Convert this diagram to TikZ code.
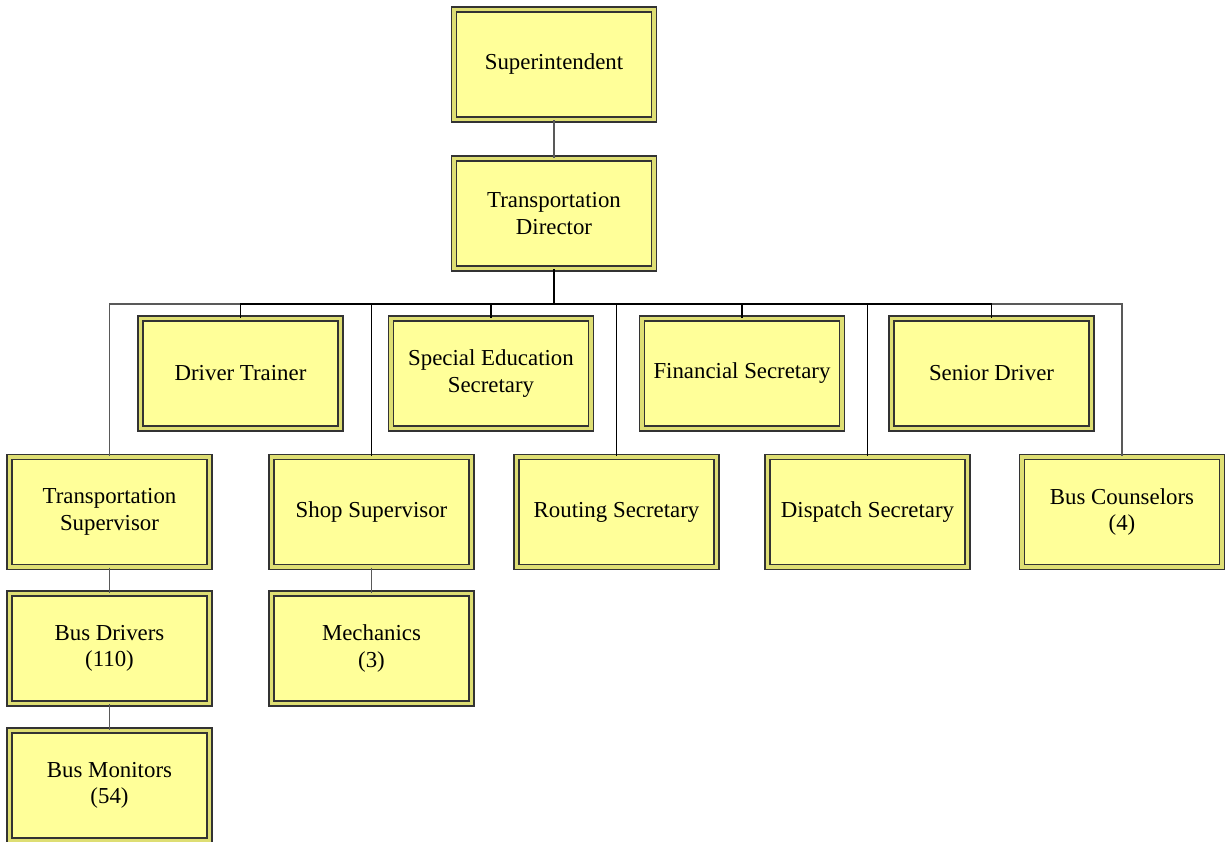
\documentclass[tikz,border=0pt]{standalone}
\usepackage{fontspec}
\setmainfont{Liberation Serif}
\usepackage{tikz}
\usetikzlibrary{calc}

\definecolor{boxfill}{RGB}{255,255,153}
\definecolor{boxband}{RGB}{222,222,115}

\begin{document}
\begin{tikzpicture}[
    post/.style={rectangle, draw=black!80, line width=0.7pt, double=boxband, double distance=2.2pt,
                 fill=boxfill, minimum width=4.0cm, minimum height=2.2cm, align=center,
                 inner sep=2pt, font=\fontsize{13}{15}\selectfont},
    conn/.style={draw, black!65, line width=0.7pt},
    trunk/.style={draw, black, line width=1.2pt}]
    \useasboundingbox (0,0) rectangle (24.5,-16.84);
    % Place nodes
    \node [post] (sup) at (11.08,-1.29) {Superintendent};
    \node [post] (dir) at (11.08,-4.27) {Transportation\\Director};
    \node [post] (trainer) at (4.81,-7.47) {Driver Trainer};
    \node [post] (sped) at (9.82,-7.47) {Special Education\\Secretary};
    \node [post] (fin) at (14.84,-7.47) {Financial Secretary};
    \node [post] (senior) at (19.83,-7.47) {Senior Driver};
    \node [post] (tsup) at (2.19,-10.24) {Transportation\\Supervisor};
    \node [post] (shop) at (7.43,-10.24) {Shop Supervisor};
    \node [post] (routing) at (12.33,-10.24) {Routing Secretary};
    \node [post] (dispatch) at (17.35,-10.24) {Dispatch Secretary};
    \node [post] (couns) at (22.44,-10.24) {Bus Counselors\\(4)};
    \node [post] (drivers) at (2.19,-12.97) {Bus Drivers\\(110)};
    \node [post] (mech) at (7.43,-12.97) {Mechanics\\(3)};
    \node [post] (monitors) at (2.19,-15.71) {Bus Monitors\\(54)};
    % Draw edges
    \path [conn] (sup) -- (dir);
    \path [trunk] (dir.south) -- ++(0,-0.7) coordinate (bus);
    \foreach \kid in {tsup,couns}
        \path [conn] (bus) -| (\kid.north);
    \foreach \kid in {trainer,shop,sped,fin,routing,dispatch,senior}
        \path [draw, black, line width=0.8pt] (bus) -| (\kid.north);
    \path [trunk] (dir.south) -- (bus);
    \path [conn] (tsup) -- (drivers);
    \path [conn] (drivers) -- (monitors);
    \path [conn] (shop) -- (mech);
\end{tikzpicture}
\end{document}
